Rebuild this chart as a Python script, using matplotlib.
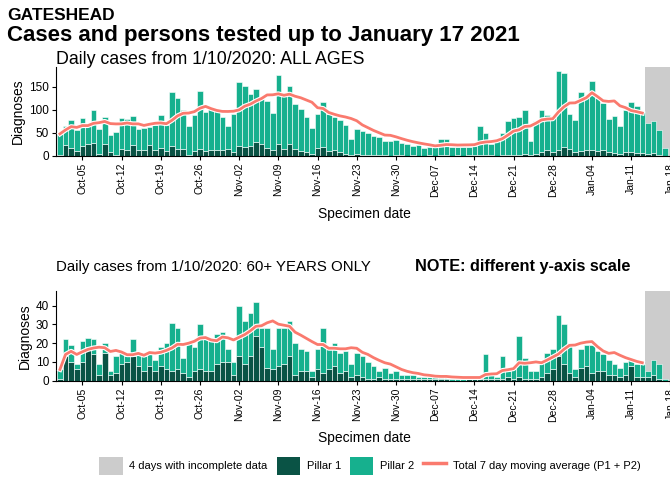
import numpy as np
import pandas as pd
import matplotlib
matplotlib.use("Agg")
import matplotlib.pyplot as plt
import matplotlib.patheffects as pe
from matplotlib.patches import Patch
from matplotlib.lines import Line2D

plt.rcParams["font.family"] = ["Liberation Sans", "DejaVu Sans"]

# Specimen dates 1 Oct 2020 - 17 Jan 2021
dates = pd.date_range("2020-10-01", "2021-01-17")
tick_labels = ["Oct-05", "Oct-12", "Oct-19", "Oct-26", "Nov-02", "Nov-09", "Nov-16",
               "Nov-23", "Nov-30", "Dec-07", "Dec-14", "Dec-21", "Dec-28", "Jan-04",
               "Jan-11", "Jan-18"]
incomplete_days = 4

# All ages: total (P1 + P2) and Pillar 1
all_total = [48, 65, 78, 57, 82, 66, 100, 58, 84, 45, 52, 83, 80, 86,
             58, 60, 63, 67, 88, 68, 138, 125, 100, 66, 88, 140, 96, 104,
             98, 85, 65, 92, 160, 152, 135, 145, 124, 119, 94, 175, 130, 152,
             113, 101, 85, 60, 92, 118, 92, 85, 77, 68, 37, 58,
             55, 50, 43, 42, 33, 33, 35, 28, 25, 22, 24, 17, 19, 19, 37, 36,
             19, 19, 19, 20, 22, 64, 50, 25, 32, 50, 75, 82, 84, 100,
             32, 75, 100, 88, 86, 185, 180, 90, 78, 138, 128, 162, 126, 116,
             80, 86, 64, 100, 118, 109, 95, 72, 75, 57, 17]
all_p1 = [3, 24, 18, 10, 21, 25, 28, 5, 25, 8, 3, 15, 12, 24,
          12, 12, 23, 14, 18, 10, 22, 15, 15, 3, 10, 16, 10, 14,
          13, 12, 15, 8, 22, 20, 22, 30, 25, 18, 12, 25, 15, 25,
          15, 10, 8, 5, 18, 20, 10, 12, 8, 5, 2, 5,
          3, 2, 2, 3, 2, 1, 2, 2, 1, 2, 1, 1, 2, 1, 2, 2,
          1, 2, 1, 2, 2, 3, 2, 2, 1, 2, 3, 2, 3, 4,
          2, 4, 8, 12, 8, 14, 20, 15, 8, 10, 12, 12, 10, 12,
          8, 6, 5, 9, 9, 7, 6, 4, 6, 3, 1]

# 60+ years: total (P1 + P2) and Pillar 1
old_total = [6, 22, 19, 9, 21, 23, 22, 9, 20, 5, 13, 15, 13, 22,
             14, 13, 15, 11, 18, 20, 31, 28, 12, 20, 18, 30, 22, 22,
             25, 26, 17, 10, 40, 32, 36, 42, 28, 28, 17, 28, 28, 32,
             20, 17, 16, 5, 17, 28, 18, 20, 15, 16, 9, 15,
             13, 10, 8, 5, 7, 4, 5, 3, 3, 3, 2, 2, 2, 2, 2, 3,
             1, 1, 1, 2, 2, 2, 14, 3, 2, 13, 5, 6, 24, 12,
             5, 5, 10, 15, 17, 35, 30, 20, 6, 17, 19, 19, 16, 14,
             11, 9, 7, 10, 12, 9, 9, 5, 11, 9, 1]
old_p1 = [1, 13, 10, 6, 10, 18, 14, 3, 15, 3, 4, 9, 10, 13,
          8, 5, 8, 5, 8, 6, 5, 6, 4, 2, 5, 6, 5, 5,
          9, 10, 10, 3, 13, 9, 13, 24, 18, 7, 6, 8, 9, 13,
          3, 5, 5, 2, 6, 4, 6, 8, 4, 5, 2, 3,
          2, 1, 1, 2, 1, 1, 1, 1, 1, 1, 1, 1, 1, 1, 1, 1,
          0, 0, 0, 1, 1, 1, 1, 1, 1, 1, 2, 1, 2, 1,
          1, 1, 2, 4, 6, 13, 9, 4, 2, 7, 8, 4, 5, 5,
          3, 3, 2, 3, 8, 2, 2, 2, 3, 1, 0]

C_P1 = "#0a5345"
C_P2 = "#16b08e"
C_MA = "#fa7a6e"
C_GREY = "#cccccc"

W, H = 670, 483
fig = plt.figure(figsize=(W / 100, H / 100), dpi=100)


def px_axes(left, top, right, bottom):
    return fig.add_axes([left / W, 1 - bottom / H, (right - left) / W, (bottom - top) / H])


def draw_panel(ax, total, p1, ymax, yticks):
    total = np.array(total, dtype=float)
    p1 = np.array(p1, dtype=float)
    p2 = total - p1
    x = np.arange(len(dates))
    ma = pd.Series(total).rolling(7, min_periods=1).mean().to_numpy()
    n_ok = len(dates) - incomplete_days

    ax.axvspan(n_ok - 0.5, len(dates) + 2, color=C_GREY, lw=0, zorder=0)
    ax.bar(x, p1, width=1.0, color=C_P1, edgecolor="white", linewidth=0.4, zorder=2)
    ax.bar(x, p2, width=1.0, bottom=p1, color=C_P2, edgecolor="white", linewidth=0.4, zorder=2)
    ax.plot(x[:n_ok], ma[:n_ok], color=C_MA, lw=2.0, zorder=3,
            path_effects=[pe.Stroke(linewidth=3.6, foreground="white"), pe.Normal()])

    ax.set_xlim(-0.7, 109.3)
    ax.set_ylim(0, ymax)
    ax.set_yticks(yticks)
    ticks = [i for i, d in enumerate(pd.date_range("2020-10-01", periods=110)) if d.dayofweek == 0]
    ax.set_xticks(ticks)
    ax.set_xticklabels(tick_labels, rotation=90, fontsize=7.5)
    ax.tick_params(axis="y", labelsize=8.5, length=3, pad=2)
    ax.tick_params(axis="x", length=3, pad=2)
    for s in ["top", "right"]:
        ax.spines[s].set_visible(False)
    ax.set_ylabel("Diagnoses", fontsize=10, labelpad=3)
    ax.set_xlabel("Specimen date", fontsize=10, labelpad=7)


ax1 = px_axes(56, 67, 672, 156)
draw_panel(ax1, all_total, all_p1, 193, [0, 50, 100, 150])
ax2 = px_axes(56, 291, 672, 380.7)
draw_panel(ax2, old_total, old_p1, 47.8, [0, 10, 20, 30, 40])

fig.text(7 / W, 1 - 15 / H, "GATESHEAD", fontsize=12.5, fontweight="bold", va="center")
fig.text(7 / W, 1 - 35 / H, "Cases and persons tested up to January 17 2021",
         fontsize=16, fontweight="bold", va="center")
fig.text(56 / W, 1 - 60 / H, "Daily cases from 1/10/2020: ALL AGES", fontsize=12.75, va="center")
fig.text(56 / W, 1 - 267 / H, "Daily cases from 1/10/2020: 60+ YEARS ONLY", fontsize=10.8, va="center")
fig.text(415 / W, 1 - 267 / H, "NOTE: different y-axis scale", fontsize=11.7,
         fontweight="bold", va="center")

handles = [Patch(facecolor=C_GREY, edgecolor="none"),
           Patch(facecolor=C_P1, edgecolor="none"),
           Patch(facecolor=C_P2, edgecolor="none"),
           Line2D([], [], color=C_MA, lw=2.5)]
labels = ["4 days with incomplete data", "Pillar 1", "Pillar 2",
          "Total 7 day moving average (P1 + P2)"]
fig.legend(handles, labels, loc="center", bbox_to_anchor=(370 / W, 1 - 466 / H), ncol=4,
           frameon=False, fontsize=8, handlelength=2.1, handleheight=2.2,
           columnspacing=0.8, handletextpad=0.6)

fig.savefig("out.png", dpi=100)
